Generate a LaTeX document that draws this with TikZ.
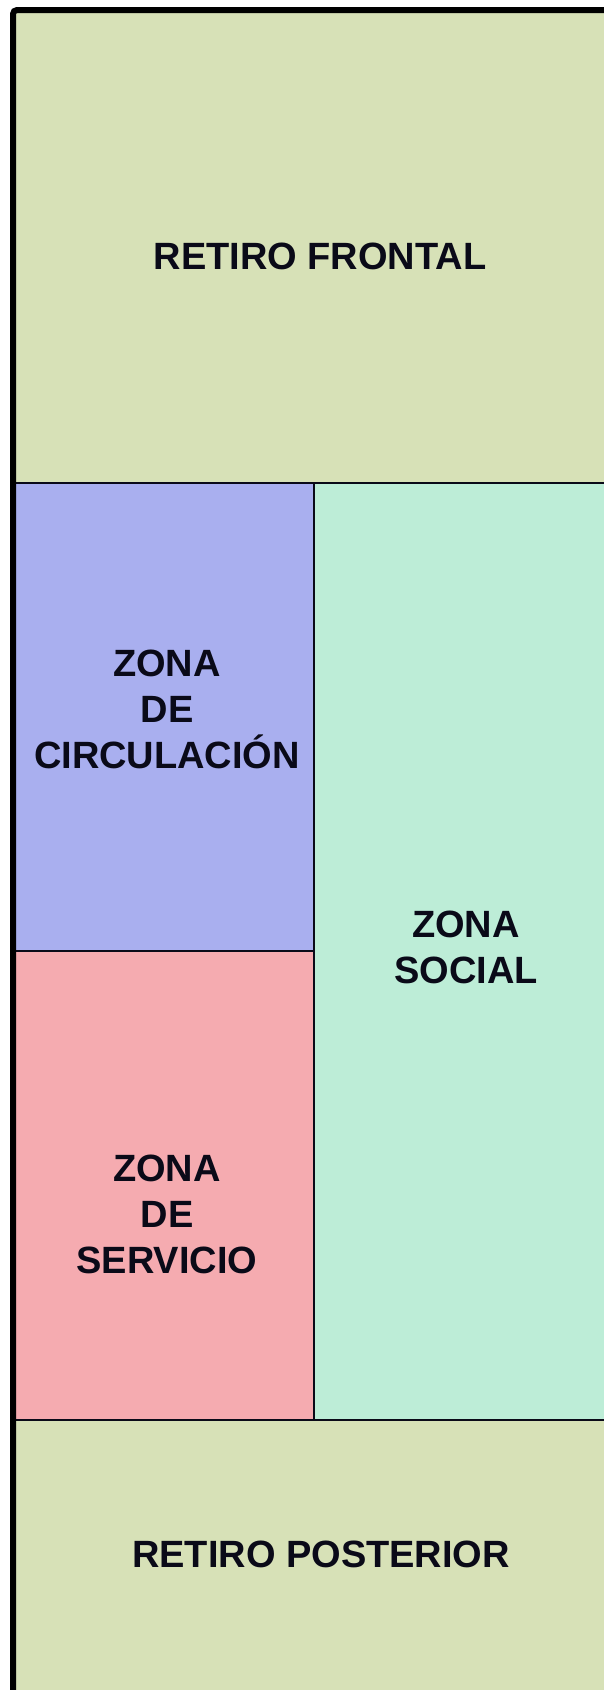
\documentclass[tikz,border=0pt]{standalone}
\usepackage{fontspec}
\setmainfont{Liberation Sans}
\definecolor{retiro}{HTML}{D7E1B7}
\definecolor{circ}{HTML}{A9AFEF}
\definecolor{serv}{HTML}{F5ABB0}
\definecolor{social}{HTML}{BDEDD7}
\definecolor{ink}{HTML}{0A0A18}
\begin{document}
\begin{tikzpicture}[x=1pt,y=-1pt,
  zone/.style={draw=ink,line width=2pt},
  lbl/.style={align=center,font=\fontsize{38}{46}\selectfont\bfseries,text=ink,inner sep=0pt}]
\useasboundingbox (0,0) rectangle (604,1690);
\fill[retiro] (13,10) rectangle (604,483);
\fill[circ] (13,483) rectangle (314,951);
\fill[serv] (13,951) rectangle (314,1420);
\fill[social] (314,483) rectangle (604,1420);
\fill[retiro] (13,1420) rectangle (604,1690);
\draw[zone] (13,483) -- (604,483);
\draw[zone] (13,1420) -- (604,1420);
\draw[zone] (314,483) -- (314,1420);
\draw[zone] (13,951) -- (314,951);
\draw[line width=6pt,draw=black,rounded corners=4pt] (13,1690) -- (13,10) -- (604,10);
\node[lbl] (front) at (320,256) {RETIRO FRONTAL};
\node[lbl] (circl) at (167,709) {ZONA\\DE\\CIRCULACIÓN};
\node[lbl] (soc) at (466,947) {ZONA\\SOCIAL};
\node[lbl] (serv) at (167,1214) {ZONA\\DE\\SERVICIO};
\node[lbl] (post) at (321,1554) {RETIRO POSTERIOR};
\end{tikzpicture}
\end{document}
